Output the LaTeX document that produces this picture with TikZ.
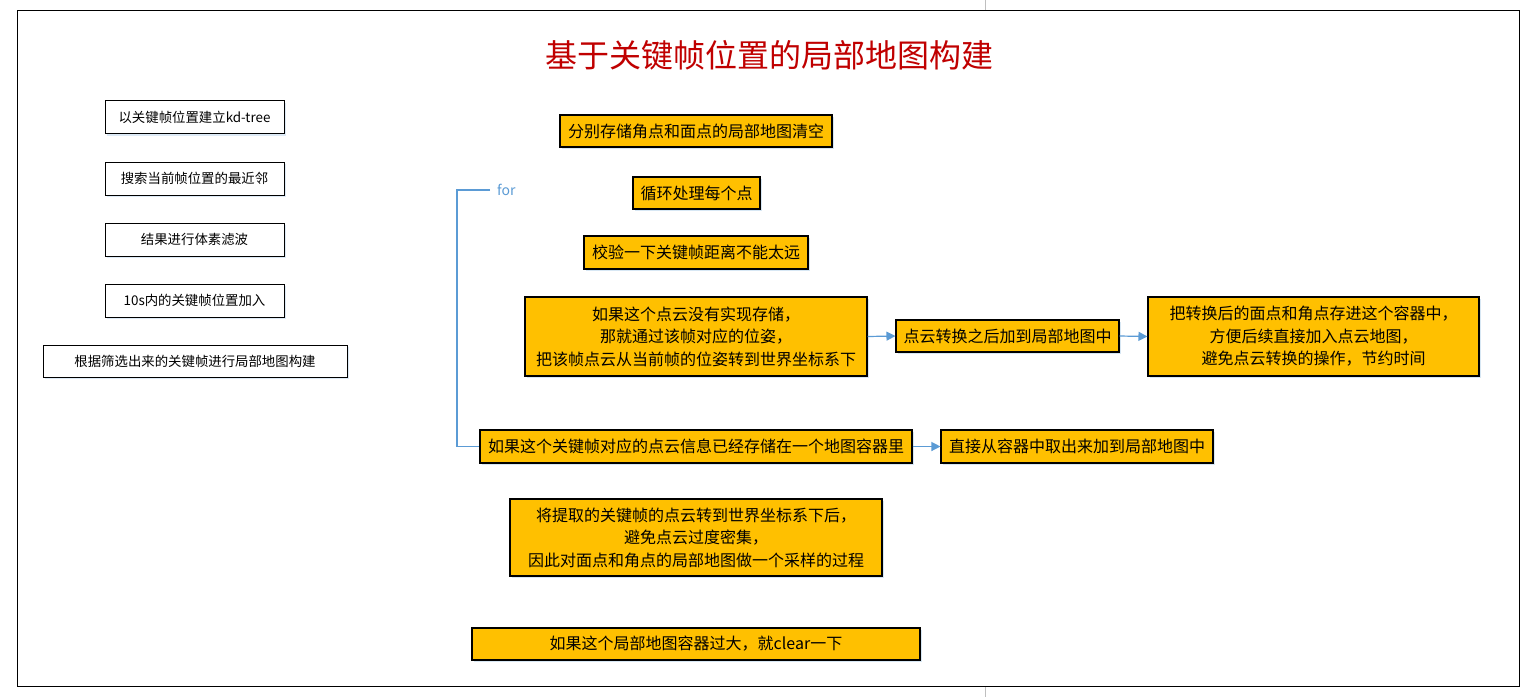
\documentclass[tikz,border=0pt]{standalone}
\usepackage{fontspec}
\setmainfont{Noto Sans CJK SC}
\usetikzlibrary{arrows.meta,shadows}
\definecolor{yel}{HTML}{FFC000}
\definecolor{conn}{HTML}{5B9BD5}
\definecolor{ttl}{HTML}{C00000}
\definecolor{shd}{HTML}{BDD7EE}
\tikzset{
  wbox/.style={draw=black, line width=1pt, fill=white, inner sep=0pt,
    font=\fontsize{13.4}{16}\selectfont,
    drop shadow={shadow xshift=2pt, shadow yshift=-2pt, fill=shd, opacity=0.5}},
  ybox/.style={draw=black, line width=1.1pt, fill=yel, inner sep=0pt, align=center,
    font=\fontsize{16}{22.5}\selectfont,
    drop shadow={shadow xshift=2pt, shadow yshift=-2pt, fill=shd, opacity=0.6}},
  conline/.style={draw=conn, line width=1.2pt},
  conarrow/.style={draw=conn, line width=1.2pt, -{Triangle[length=9pt,width=9pt]}},
}
\begin{document}
\begin{tikzpicture}[x=1pt,y=-1pt]
\useasboundingbox (0,0) rectangle (1540,697);
\fill[white] (0,0) rectangle (1540,697);
\draw[gray!50, line width=0.8pt] (985,0) -- (985,10);
\draw[gray!50, line width=0.8pt] (985,686) -- (985,697);
\draw[black, line width=1pt] (17,10) rectangle (1519,686);

\node[text=ttl, font=\fontsize{32}{36}\selectfont] (title) at (769,55) {基于关键帧位置的局部地图构建};

% left column
\node[wbox, minimum width=179pt, minimum height=33pt] (L1) at (194.5,117) {以关键帧位置建立kd-tree};
\node[wbox, minimum width=179pt, minimum height=33pt] (L2) at (194.5,178.5) {搜索当前帧位置的最近邻};
\node[wbox, minimum width=179pt, minimum height=33pt] (L3) at (194.5,239.5) {结果进行体素滤波};
\node[wbox, minimum width=179pt, minimum height=33pt] (L4) at (194.5,300.5) {10s内的关键帧位置加入};
\node[wbox, minimum width=304pt, minimum height=32pt] (L5) at (195,361) {根据筛选出来的关键帧进行局部地图构建};

% yellow boxes
\node[ybox, minimum width=272pt, minimum height=32pt] (A) at (696,131) {分别存储角点和面点的局部地图清空};
\node[ybox, minimum width=127pt, minimum height=32pt] (B) at (696.5,193) {循环处理每个点};
\node[ybox, minimum width=224pt, minimum height=33pt] (C) at (696,252.5) {校验一下关键帧距离不能太远};
\node[ybox, minimum width=342pt, minimum height=79pt] (D) at (696,336.5) {如果这个点云没有实现存储，\\那就通过该帧对应的位姿，\\把该帧点云从当前帧的位姿转到世界坐标系下};
\node[ybox, minimum width=223pt, minimum height=32pt] (E) at (1007.5,336) {点云转换之后加到局部地图中};
\node[ybox, minimum width=331pt, minimum height=79pt] (F) at (1313.5,336.5) {把转换后的面点和角点存进这个容器中，\\方便后续直接加入点云地图，\\避免点云转换的操作，节约时间};
\node[ybox, minimum width=432pt, minimum height=33pt] (G) at (696,446.5) {如果这个关键帧对应的点云信息已经存储在一个地图容器里};
\node[ybox, minimum width=272pt, minimum height=33pt] (H) at (1077,446.5) {直接从容器中取出来加到局部地图中};
\node[ybox, minimum width=372pt, minimum height=77pt] (I) at (696,537.5) {将提取的关键帧的点云转到世界坐标系下后，\\避免点云过度密集，\\因此对面点和角点的局部地图做一个采样的过程};
\node[ybox, minimum width=448pt, minimum height=32pt] (J) at (696,644) {如果这个局部地图容器过大，就clear一下};

% for bracket
\coordinate (bt) at (457,190);
\coordinate (btr) at (490,190);
\node[text=conn, font=\fontsize{14}{16}\selectfont, anchor=west, inner sep=0pt] (for) at (497,190) {for};
\draw[conline] (btr) -- (bt) |- (G.west);

% arrows
\draw[conarrow] (D.east) -- (E.west);
\draw[conarrow] (E.east) -- (F.west);
\draw[conarrow] (G.east) -- (H.west);
\end{tikzpicture}
\end{document}
